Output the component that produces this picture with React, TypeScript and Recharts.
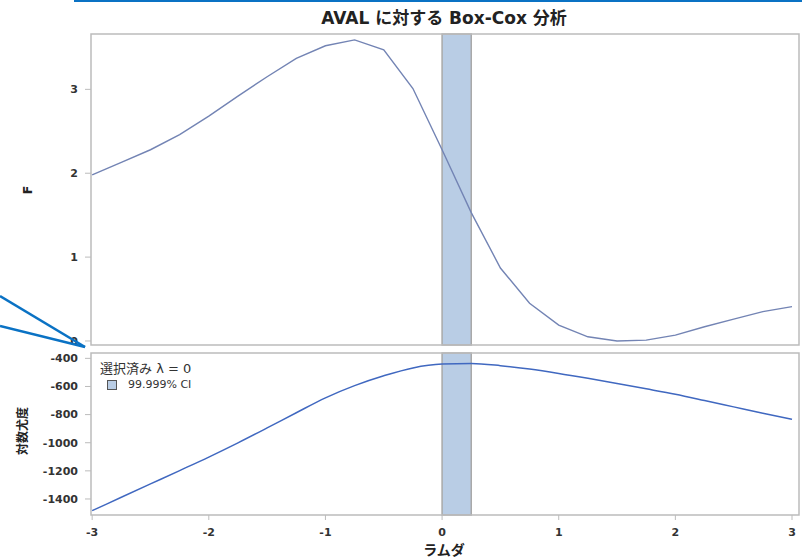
import React from 'react';
import { ComposedChart, Line, XAxis, YAxis, ReferenceArea, Legend } from 'recharts';

// Box-Cox transformation parameter grid
const lambdas = [
  -3, -2.75, -2.5, -2.25, -2, -1.75, -1.5, -1.25, -1, -0.75, -0.5, -0.25, 0,
  0.25, 0.5, 0.75, 1, 1.25, 1.5, 1.75, 2, 2.25, 2.5, 2.75, 3,
];

// F statistic for each lambda
const fStat = [
  1.98, 2.13, 2.28, 2.46, 2.68, 2.92, 3.15, 3.37, 3.52, 3.59, 3.47, 3.01, 2.28,
  1.53, 0.87, 0.45, 0.19, 0.05, 0.0, 0.01, 0.07, 0.17, 0.26, 0.35, 0.41,
];

// Log-likelihood for each lambda
const logLik = [
  -1483, -1388, -1293, -1198, -1102, -1001, -895, -787, -681, -594, -524, -468,
  -441, -437, -452, -476, -507, -542, -579, -617, -656, -700, -745, -790, -834,
];

const fTicks = [0, 1, 2, 3];
const llTicks = [-1400, -1200, -1000, -800, -600, -400];
const lambdaTicks = [-3, -2, -1, 0, 1, 2, 3];

const ciLower = 0;
const ciUpper = 0.25;
const selectedLambda = 0;
const ciLabel = '99.999% CI';

const rows = lambdas.map((l, i) => ({ lambda: l, f: fStat[i], ll: logLik[i] }));

const X_DOMAIN: [number, number] = [-3.01, 3.06];
const F_DOMAIN: [number, number] = [-0.048, 3.66];
const LL_DOMAIN: [number, number] = [-1514, -362];

const FONT = "'DejaVu Sans', 'Noto Sans CJK JP', sans-serif";
const FRAME = '#bcbcbc';
const TICK_TEXT = { fill: '#333', fontSize: 11, fontWeight: 700, fontFamily: FONT };
const BAND_FILL = '#b9cde5';
const BAND_EDGE = '#a9a9a9';

function CiLegend() {
  return (
    <div style={{ fontFamily: FONT, color: '#333', lineHeight: '16px' }}>
      <div style={{ fontSize: 13 }}>選択済み λ = {selectedLambda}</div>
      <div style={{ display: 'flex', alignItems: 'center', fontSize: 11, marginLeft: 7 }}>
        <span
          style={{
            display: 'inline-block',
            width: 8,
            height: 8,
            background: BAND_FILL,
            border: '1px solid #555',
            marginRight: 11,
          }}
        />
        {ciLabel}
      </div>
    </div>
  );
}

export default function App() {
  return (
    <div
      style={{
        position: 'absolute',
        left: 0,
        top: 0,
        width: 802,
        height: 560,
        background: '#fff',
        fontFamily: FONT,
      }}
    >
      {/* upper panel: F statistic */}
      <div style={{ position: 'absolute', left: 0, top: 0 }}>
        <ComposedChart
          width={802}
          height={350}
          data={rows}
          margin={{ top: 34, right: 3, bottom: 5, left: 0 }}
        >
          <XAxis dataKey="lambda" type="number" domain={X_DOMAIN} hide />
          <YAxis
            type="number"
            domain={F_DOMAIN}
            ticks={fTicks}
            width={91}
            axisLine={false}
            tickSize={6}
            tickMargin={7}
            tickLine={{ stroke: FRAME }}
            tick={TICK_TEXT}
          />
          <ReferenceArea
            x1={ciLower}
            x2={ciUpper}
            y1={F_DOMAIN[0]}
            y2={F_DOMAIN[1]}
            fill={BAND_FILL}
            fillOpacity={1}
            stroke={BAND_EDGE}
            strokeWidth={1.5}
          />
          <Line
            dataKey="f"
            type="linear"
            stroke="#7384b4"
            strokeWidth={1.4}
            dot={false}
            isAnimationActive={false}
          />
          <ReferenceArea
            x1={X_DOMAIN[0]}
            x2={X_DOMAIN[1]}
            y1={F_DOMAIN[0]}
            y2={F_DOMAIN[1]}
            fill="none"
            stroke={FRAME}
            strokeWidth={1.5}
          />
        </ComposedChart>
      </div>

      {/* lower panel: log-likelihood */}
      <div style={{ position: 'absolute', left: 0, top: 350 }}>
        <ComposedChart
          width={802}
          height={210}
          data={rows}
          margin={{ top: 3, right: 3, bottom: 0, left: 0 }}
        >
          <XAxis
            dataKey="lambda"
            type="number"
            domain={X_DOMAIN}
            ticks={lambdaTicks}
            height={45}
            axisLine={false}
            tickSize={5}
            tickMargin={8}
            tickLine={{ stroke: FRAME }}
            tick={TICK_TEXT}
          />
          <YAxis
            type="number"
            domain={LL_DOMAIN}
            ticks={llTicks}
            width={91}
            axisLine={false}
            tickSize={6}
            tickMargin={7}
            tickLine={{ stroke: FRAME }}
            tick={TICK_TEXT}
          />
          <ReferenceArea
            x1={ciLower}
            x2={ciUpper}
            y1={LL_DOMAIN[0]}
            y2={LL_DOMAIN[1]}
            fill={BAND_FILL}
            fillOpacity={1}
            stroke={BAND_EDGE}
            strokeWidth={1.5}
          />
          <Line
            dataKey="ll"
            type="monotone"
            stroke="#4068c0"
            strokeWidth={1.5}
            dot={false}
            isAnimationActive={false}
          />
          <ReferenceArea
            x1={X_DOMAIN[0]}
            x2={X_DOMAIN[1]}
            y1={LL_DOMAIN[0]}
            y2={LL_DOMAIN[1]}
            fill="none"
            stroke={FRAME}
            strokeWidth={1.5}
          />
          <Legend
            layout="vertical"
            align="center"
            verticalAlign="middle"
            content={() => <CiLegend />}
            wrapperStyle={{ top: 11, left: 100, right: 'auto', bottom: 'auto', width: 'auto' }}
          />
        </ComposedChart>
      </div>

      {/* titles, axis captions and callout strokes */}
      <svg
        width={802}
        height={560}
        style={{ position: 'absolute', left: 0, top: 0, pointerEvents: 'none' }}
      >
        <line x1={74} y1={1} x2={802} y2={1} stroke="#0a72c4" strokeWidth={2.2} />
        <line x1={0} y1={296} x2={85} y2={347} stroke="#0a72c4" strokeWidth={2.6} />
        <line x1={0} y1={326} x2={85} y2={347} stroke="#0a72c4" strokeWidth={2.6} />
        <text
          x={444}
          y={24}
          textAnchor="middle"
          fontSize={17}
          fontWeight={700}
          fill="#222"
          fontFamily={FONT}
        >
          AVAL に対する Box-Cox 分析
        </text>
        <text
          x={0}
          y={0}
          transform="translate(32 190) rotate(-90)"
          textAnchor="middle"
          fontSize={13}
          fontWeight={700}
          fill="#222"
          fontFamily={FONT}
        >
          F
        </text>
        <text
          x={0}
          y={0}
          transform="translate(27 431) rotate(-90)"
          textAnchor="middle"
          fontSize={12}
          fontWeight={700}
          fill="#222"
          fontFamily={FONT}
        >
          対数尤度
        </text>
        <text
          x={444}
          y={555}
          textAnchor="middle"
          fontSize={14}
          fontWeight={700}
          fill="#222"
          fontFamily={FONT}
        >
          ラムダ
        </text>
      </svg>
    </div>
  );
}
